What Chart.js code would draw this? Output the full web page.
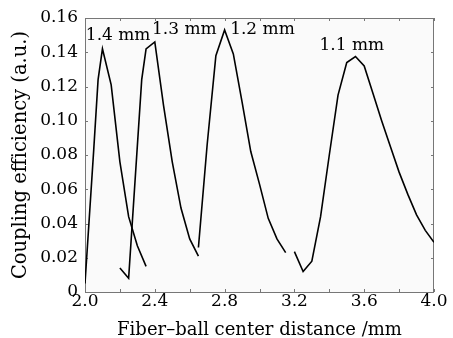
<!DOCTYPE html>
<html><head><meta charset="utf-8">
<script src="https://cdn.jsdelivr.net/npm/chart.js@4"></script>
<style>html,body{margin:0;padding:0;background:#fff}#w{width:453px;height:338px}</style>
</head><body><div id="w"><canvas id="c"></canvas></div>
<script>
const x14=[2.0,2.05,2.075,2.1,2.15,2.2,2.25,2.3,2.35];
const y14=[0.005,0.083,0.124,0.142,0.121,0.076,0.044,0.027,0.015];
const x13=[2.2,2.25,2.325,2.35,2.4,2.45,2.5,2.55,2.6,2.65];
const y13=[0.014,0.008,0.124,0.142,0.146,0.109,0.076,0.049,0.031,0.021];
const x12=[2.65,2.7,2.75,2.8,2.85,2.9,2.95,3.0,3.05,3.1,3.15];
const y12=[0.026,0.086,0.138,0.153,0.139,0.111,0.082,0.063,0.043,0.031,0.023];
const x11=[3.2,3.25,3.3,3.35,3.4,3.45,3.5,3.55,3.6,3.65,3.7,3.75,3.8,3.85,3.9,3.95,4.0];
const y11=[0.0236,0.012,0.018,0.044,0.08,0.115,0.134,0.1375,0.132,0.116,0.1,0.085,0.07,0.057,0.045,0.036,0.029];
const curveLabels=["1.4 mm","1.3 mm","1.2 mm","1.1 mm"];
const labelX=[2.19,2.569,3.017,3.529];
const labelY=[0.1495,0.153,0.153,0.1439];
const xLabelTicks=[2.0,2.4,2.8,3.2,3.6,4.0];
const xTitle="Fiber\u2013ball center distance /mm";
const yTitle="Coupling efficiency (a.u.)";

const FONT="'DejaVu Serif', serif";
const pts=(xs,ys)=>xs.map((x,i)=>({x:x,y:ys[i]}));
const ds=(xs,ys)=>({data:pts(xs,ys),showLine:true,borderColor:'#000',borderWidth:1.6,pointRadius:0,fill:false,tension:0});

const framePlugin={
  id:'frame',
  beforeDatasetsDraw(chart){
    const {ctx,chartArea:a,scales:{x,y}}=chart;
    ctx.save();
    ctx.fillStyle='#fafafa';
    ctx.fillRect(a.left,a.top,a.right-a.left,a.bottom-a.top);
    ctx.strokeStyle='#777';ctx.lineWidth=1;
    ctx.strokeRect(a.left+0.5,a.top+0.5,a.right-a.left-1,a.bottom-a.top);
    const L=3;
    ctx.beginPath();
    x.ticks.forEach(t=>{const px=Math.round(x.getPixelForValue(t.value))+0.5;
      ctx.moveTo(px,a.bottom);ctx.lineTo(px,a.bottom-L);
      ctx.moveTo(px,a.top);ctx.lineTo(px,a.top+L);});
    y.ticks.forEach(t=>{const py=Math.round(y.getPixelForValue(t.value))+0.5;
      ctx.moveTo(a.left,py);ctx.lineTo(a.left+L,py);
      ctx.moveTo(a.right,py);ctx.lineTo(a.right-L,py);});
    ctx.stroke();
    ctx.restore();
  },
  afterDatasetsDraw(chart){
    const {ctx,scales:{x,y}}=chart;
    ctx.save();
    ctx.fillStyle='#000';
    ctx.font="17px "+FONT;
    ctx.textAlign='center';ctx.textBaseline='middle';
    curveLabels.forEach((s,i)=>ctx.fillText(s,x.getPixelForValue(labelX[i]),y.getPixelForValue(labelY[i])));
    ctx.restore();
  }
};

new Chart(document.getElementById('c'),{
  type:'scatter',
  data:{datasets:[ds(x14,y14),ds(x13,y13),ds(x12,y12),ds(x11,y11)]},
  options:{
    responsive:true,maintainAspectRatio:false,animation:false,
    layout:{padding:{top:18,right:19,left:0,bottom:0}},
    plugins:{legend:{display:false},tooltip:{enabled:false}},
    scales:{
      x:{type:'linear',min:2,max:4,
        afterFit:s=>{s.height=46;},
        grid:{display:false,drawTicks:false},border:{display:false},
        ticks:{stepSize:0.2,padding:-1,color:'#000',font:{family:FONT,size:17},maxRotation:0,autoSkip:false,
          callback:v=>xLabelTicks.some(t=>Math.abs(t-v)<1e-6)?v.toFixed(1):''},
        title:{display:true,text:xTitle,color:'#000',font:{family:FONT,size:18},padding:{top:0,bottom:-3}}},
      y:{type:'linear',min:0,max:0.16,
        afterFit:s=>{s.width=85;},
        grid:{display:false,drawTicks:false},border:{display:false},
        ticks:{stepSize:0.02,padding:7,color:'#000',font:{family:FONT,size:17},
          callback:v=>Math.abs(v)<1e-9?'0':v.toFixed(2)},
        title:{display:true,text:yTitle,color:'#000',font:{family:FONT,size:19.5},padding:{top:9,bottom:0}}}
    }
  },
  plugins:[framePlugin]
});
</script></body></html>
